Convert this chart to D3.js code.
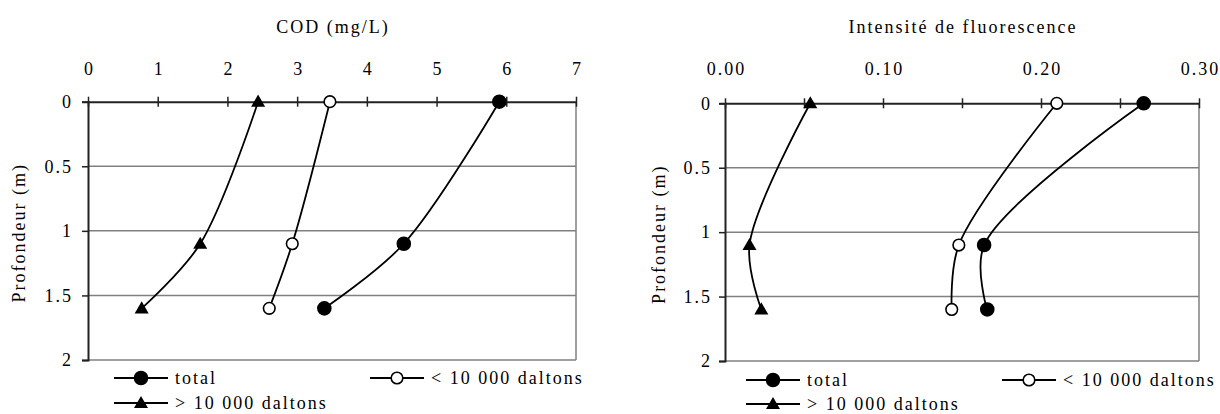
<!DOCTYPE html>
<html>
<head>
<meta charset="utf-8">
<script src="https://cdn.jsdelivr.net/npm/d3@7"></script>
<style>
  html, body { margin: 0; padding: 0; background: #fff; }
  svg text { font-family: 'Liberation Serif', Tinos, 'DejaVu Serif', serif; font-size: 18px; letter-spacing: 2px; fill: #000; }
</style>
</head>
<body>
<svg id="chart" width="1220" height="414" font-family="Liberation Serif"></svg>
<script>
// ---- data ----
const depths = [0, 1.1, 1.6];
const depthTicks = [0, 0.5, 1, 1.5, 2];

const codTitle = "COD (mg/L)";
const codTicks = [0, 1, 2, 3, 4, 5, 6, 7];
const codTotal = [5.90, 4.53, 3.39];
const codSmall = [3.47, 2.93, 2.60];
const codLarge = [2.44, 1.61, 0.77];

const fluoTitle = "Intensité de fluorescence";
const fluoTicks = [0, 0.05, 0.10, 0.15, 0.20, 0.25, 0.30];
const fluoLabelTicks = [0, 0.10, 0.20, 0.30];
const fluoTotal = [0.265, 0.164, 0.166];
const fluoSmall = [0.210, 0.148, 0.1435];
const fluoLarge = [0.054, 0.0155, 0.023];

const seriesNames = ["total", "< 10 000 daltons", "> 10 000 daltons"];
const seriesMarkers = ["filled", "open", "triangle"];
const yTitle = "Profondeur (m)";

const FONT = "Liberation Serif, Tinos, DejaVu Serif, serif";
const svg = d3.select("#chart");
svg.append("rect").attr("width", 1220).attr("height", 414).attr("fill", "#fff");

function marker(g, type, cx, cy) {
  if (type === "triangle") {
    g.append("path")
      .attr("d", d3.symbol().type(d3.symbolTriangle).size(85)())
      .attr("transform", `translate(${cx},${cy + 1})`)
      .attr("fill", "#000");
  } else {
    g.append("circle").attr("cx", cx).attr("cy", cy)
      .attr("r", type === "filled" ? 6.5 : 5.8)
      .attr("fill", type === "filled" ? "#000" : "#fff")
      .attr("stroke", "#000").attr("stroke-width", 1.6);
  }
}

function panel(cfg) {
  const g = svg.append("g").attr("font-family", FONT);
  const x = d3.scaleLinear().domain(cfg.xDomain).range(cfg.xRange);
  const y = d3.scaleLinear().domain([0, 2]).range(cfg.yRange);
  const [x0, x1] = cfg.xRange, [y0, y1] = cfg.yRange;

  // gridlines
  g.append("g").selectAll("line").data(depthTicks.filter(d => d > 0)).join("line")
    .attr("x1", x0).attr("x2", x1).attr("y1", d => y(d)).attr("y2", d => y(d))
    .attr("stroke", "#808080").attr("stroke-width", 1.5);
  // right border
  g.append("line").attr("x1", x1).attr("x2", x1).attr("y1", y0).attr("y2", y1)
    .attr("stroke", "#808080").attr("stroke-width", 1.5);

  // y axis
  const ya = g.append("g").attr("transform", `translate(${x0},0)`)
    .call(d3.axisLeft(y).tickValues(depthTicks).tickSize(6).tickPadding(cfg.yPad).tickFormat(d => String(d)));
  ya.attr("font-family", FONT).attr("font-size", null);
  ya.select(".domain").attr("stroke", "#222").attr("stroke-width", 2);
  ya.selectAll(".tick line").attr("stroke", "#222").attr("stroke-width", 1.5);
  ya.selectAll("text").attr("fill", "#000");

  // x axis (top)
  const xa = g.append("g").attr("transform", `translate(0,${y0})`)
    .call(d3.axisTop(x).tickValues(cfg.xTicks).tickSize(5).tickSizeOuter(0).tickPadding(cfg.xPad)
      .tickFormat(d => cfg.xLabels.some(l => Math.abs(l - d) < 1e-9) ? cfg.fmt(d) : ""));
  xa.attr("font-family", FONT).attr("font-size", null);
  xa.select(".domain").attr("stroke", "#222").attr("stroke-width", 2);
  xa.selectAll(".tick line").attr("y1", 5).attr("y2", -5).attr("stroke", "#222").attr("stroke-width", 1.5);
  xa.selectAll("text").attr("fill", "#000").attr("dx", 1);

  // titles
  g.append("text").attr("x", (x0 + x1) / 2 + 1).attr("y", cfg.titleY)
    .attr("text-anchor", "middle").text(cfg.title);
  g.append("text").attr("transform", `translate(${cfg.yTitleX},${(y0 + y1) / 2 + 2}) rotate(-90)`)
    .attr("text-anchor", "middle").text(yTitle);

  // series
  const line = d3.line().x(d => x(d[0])).y(d => y(d[1])).curve(d3.curveCatmullRom.alpha(0.5));
  cfg.series.forEach((vals, i) => {
    const pts = vals.map((v, j) => [v, depths[j]]);
    g.append("path").attr("d", line(pts)).attr("fill", "none")
      .attr("stroke", "#000").attr("stroke-width", 1.8);
    pts.forEach(p => marker(g, seriesMarkers[i], x(p[0]), y(p[1])));
  });

  // legend
  cfg.legend.forEach((L, i) => {
    g.append("line").attr("x1", L.x).attr("x2", L.x + 54).attr("y1", L.y).attr("y2", L.y)
      .attr("stroke", "#000").attr("stroke-width", 1.8);
    marker(g, seriesMarkers[i], L.x + 27, L.y);
    g.append("text").attr("x", L.x + 61).attr("y", L.y + 6).text(seriesNames[i]);
  });
}

panel({
  xDomain: [0, 7], xRange: [88, 576], yRange: [101.7, 360],
  xTicks: codTicks, xLabels: codTicks, fmt: d3.format("d"),
  xPad: 22, yPad: 9, title: codTitle, titleY: 33, yTitleX: 25,
  series: [codTotal, codSmall, codLarge],
  legend: [{x: 114, y: 378}, {x: 370, y: 378}, {x: 114, y: 403}]
});

panel({
  xDomain: [0, 0.3], xRange: [725, 1199], yRange: [103.3, 361],
  xTicks: fluoTicks, xLabels: fluoLabelTicks, fmt: d3.format(".2f"),
  xPad: 23, yPad: 7, title: fluoTitle, titleY: 33, yTitleX: 665,
  series: [fluoTotal, fluoSmall, fluoLarge],
  legend: [{x: 746, y: 380}, {x: 1002, y: 380}, {x: 746, y: 404}]
});
</script>
</body>
</html>
